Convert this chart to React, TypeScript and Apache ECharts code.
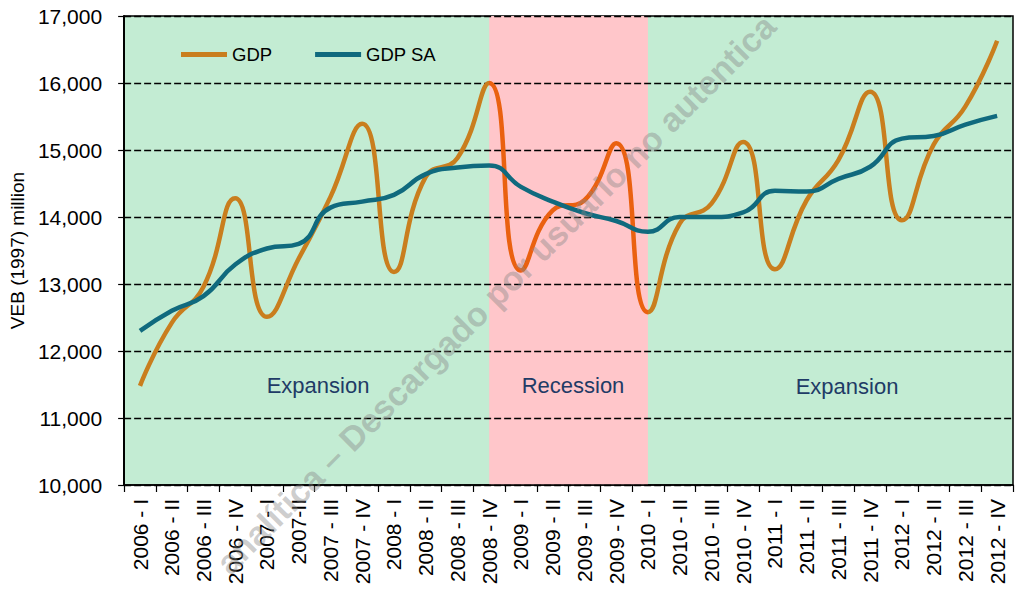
import React, { useEffect, useRef } from "react";
import * as echarts from "echarts";

const categories = [
  "2006 - I", "2006 - II", "2006 - III", "2006 - IV",
  "2007 - I", "2007-II", "2007 - III", "2007 - IV",
  "2008 - I", "2008 - II", "2008 - III", "2008 - IV",
  "2009 - I", "2009 - II", "2009 - III", "2009 - IV",
  "2010 - I", "2010 - II", "2010 - III", "2010 - IV",
  "2011 - I", "2011 - II", "2011 - III", "2011 - IV",
  "2012 - I", "2012 - II", "2012 - III", "2012 - IV",
];

const gdp = [
  11480, 12420, 12960, 14280,
  12510, 13380, 14300, 15390,
  13180, 14600, 14880, 16000,
  13200, 14100, 14250, 15100,
  12580, 13900, 14200, 15120,
  13220, 14250, 14850, 15870,
  13950, 15080, 15650, 16630,
];

const gdpSA = [
  12300, 12600, 12820, 13290,
  13530, 13600, 14140, 14230,
  14330, 14640, 14740, 14770,
  14450, 14230, 14060, 13940,
  13780, 14000, 14000, 14070,
  14390, 14380, 14570, 14750,
  15170, 15210, 15380, 15510,
];

const recessionStart = "2008 - IV";
const recessionEnd = "2010 - I";
const recessionStartIdx = 11;
const recessionEndIdx = 16;

const FONT = '"Liberation Sans", Arial, sans-serif';
const ORANGE = "#C97E1E";
const RED = "#EA6110";
const TEAL = "#106A7E";
const GREEN_BG = "#C3ECD3";
const PINK_BG = "#FFC6CA";
const NAVY = "#1F3B66";

export default function App() {
  const ref = useRef<HTMLDivElement>(null);

  useEffect(() => {
    document.body.style.margin = "0";
    const chart = echarts.init(ref.current!, null, { renderer: "svg" });
    const option: any = {
      animation: false,
      textStyle: { fontFamily: FONT },
      grid: {
        left: 121.7,
        right: 3,
        top: 16,
        bottom: 106,
        show: true,
        backgroundColor: GREEN_BG,
        borderColor: "#000",
        borderWidth: 1.5,
        z: 0,
      },
      legend: {
        left: 176,
        top: 40,
        itemWidth: 46,
        itemHeight: 5,
        itemGap: 43,
        icon: "rect",
        textStyle: { fontSize: 18.5, color: "#000", fontFamily: FONT },
        data: [
          { name: "GDP", itemStyle: { color: ORANGE } },
          { name: "GDP SA", itemStyle: { color: TEAL } },
        ],
      },
      visualMap: {
        type: "piecewise",
        show: false,
        seriesIndex: 0,
        dimension: 0,
        pieces: [
          { lt: recessionStartIdx, color: ORANGE },
          { gte: recessionStartIdx, lte: recessionEndIdx, color: RED },
          { gt: recessionEndIdx, color: ORANGE },
        ],
      },
      xAxis: {
        type: "category",
        data: categories,
        boundaryGap: true,
        z: 1.5,
        axisLine: { lineStyle: { color: "#000", width: 1.5 } },
        axisTick: { show: true, length: 7, lineStyle: { color: "#000", width: 1.2 } },
        axisLabel: {
          rotate: 90,
          interval: 0,
          fontSize: 21,
          color: "#000",
          margin: 14,
          fontFamily: FONT,
        },
        splitLine: { show: false },
      },
      yAxis: {
        type: "value",
        min: 10000,
        max: 17000,
        interval: 1000,
        z: 1.5,
        name: "VEB (1997) million",
        nameLocation: "middle",
        nameGap: 83,
        nameTextStyle: { fontSize: 19, color: "#000", fontFamily: FONT },
        axisLine: { show: true, lineStyle: { color: "#000", width: 2 } },
        axisTick: { show: true, length: 6, lineStyle: { color: "#000", width: 1.2 } },
        axisLabel: {
          fontSize: 21,
          color: "#000",
          margin: 22,
          fontFamily: FONT,
          formatter: (v: number) => v.toLocaleString("en-US"),
        },
        splitLine: {
          show: true,
          lineStyle: { color: "#000", type: [7, 3], width: 1.3 },
        },
      },
      series: [
        {
          name: "GDP",
          type: "line",
          data: gdp,
          smooth: 0.5,
          symbol: "none",
          z: 3,
          lineStyle: { width: 4.5 },
        },
        {
          name: "GDP SA",
          type: "line",
          data: gdpSA,
          smooth: 0.5,
          symbol: "none",
          z: 3,
          lineStyle: { width: 4.5, color: TEAL },
          itemStyle: { color: TEAL },
        },
        {
          name: "recession",
          type: "line",
          data: [],
          z: 1,
          silent: true,
          markArea: {
            silent: true,
            itemStyle: { color: PINK_BG },
            data: [[{ xAxis: recessionStart }, { xAxis: recessionEnd }]],
          },
        },
      ],
      graphic: [
        {
          type: "text",
          x: 318,
          y: 385,
          z: 10,
          style: { text: "Expansion", fontSize: 22, fontFamily: FONT, fill: NAVY, align: "center", verticalAlign: "middle", textAlign: "center", textVerticalAlign: "middle" },
        },
        {
          type: "text",
          x: 573,
          y: 385,
          z: 10,
          style: { text: "Recession", fontSize: 22, fontFamily: FONT, fill: NAVY, align: "center", verticalAlign: "middle", textAlign: "center", textVerticalAlign: "middle" },
        },
        {
          type: "text",
          x: 847,
          y: 386,
          z: 10,
          style: { text: "Expansion", fontSize: 22, fontFamily: FONT, fill: NAVY, align: "center", verticalAlign: "middle", textAlign: "center", textVerticalAlign: "middle" },
        },
        {
          type: "text",
          x: 222,
          y: 568,
          rotation: Math.PI / 4,
          z: 20,
          style: {
            text: "analítica – Descargado por usuario no autentica",
            fontSize: 34,
            fontWeight: "bold",
            fontFamily: FONT,
            fill: "rgba(135,135,135,0.42)",
            align: "left",
            verticalAlign: "middle",
            textAlign: "left",
            textVerticalAlign: "middle",
          },
        },
      ],
    };
    chart.setOption(option);
    return () => chart.dispose();
  }, []);

  return (
    <div
      ref={ref}
      style={{ position: "fixed", left: 0, top: 0, width: 1016, height: 591, background: "#fff" }}
    />
  );
}
